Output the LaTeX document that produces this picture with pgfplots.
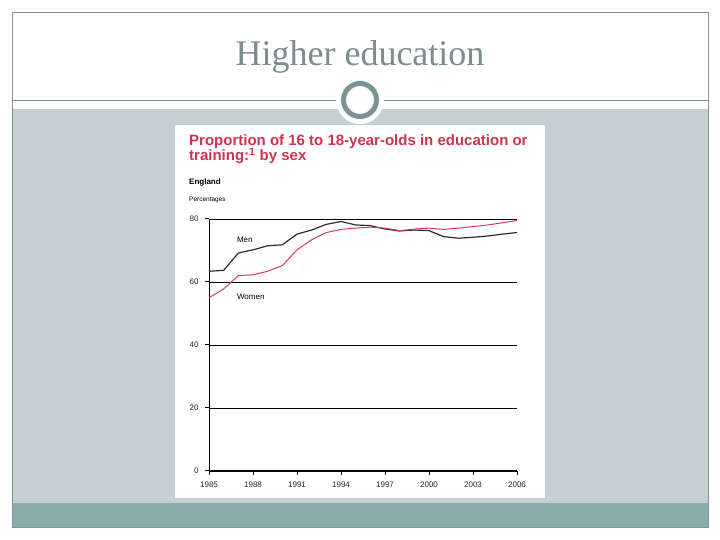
\documentclass[border=0pt]{standalone}
\usepackage{fontspec}
\setmainfont{Liberation Serif}
\newfontfamily\chartfont{Liberation Sans}
\usepackage{pgfplots}
\pgfplotsset{compat=1.18}
\definecolor{slidegray}{RGB}{197,208,213}
\definecolor{slideteal}{RGB}{138,172,172}
\definecolor{framegray}{RGB}{128,148,150}
\definecolor{ringcol}{RGB}{122,148,148}
\definecolor{headgray}{RGB}{125,140,140}
\definecolor{chartred}{RGB}{206,52,78}
\definecolor{menline}{RGB}{45,45,45}
\definecolor{womenline}{RGB}{214,60,82}

\begin{document}
\begin{tikzpicture}[x=1bp,y=1bp]
\useasboundingbox (0,0) rectangle (720,540);
\fill[white] (0,0) rectangle (720,540);
% slide decoration (y measured from the bottom)
\fill[slidegray] (12,37) rectangle (708,431);
\fill[slideteal] (12,13) rectangle (708,37);
\draw[framegray, line width=0.8bp] (12,13) rectangle (708,528);
\draw[framegray, line width=0.8bp] (12,440) -- (708,440);
\fill[white] (360,440) circle (24);
\draw[ringcol, line width=5bp] (360,440) circle (16.5);
\node[anchor=base, text=headgray, inner sep=0pt,
      font=\fontsize{36bp}{40bp}\selectfont] at (360,474) {Higher education};
% chart panel
\fill[white] (175,42) rectangle (545,415);
\node[anchor=base west, inner sep=0pt, text=chartred,
      font=\chartfont\bfseries\fontsize{15bp}{17bp}\selectfont]
  at (189,394) {Proportion of 16 to 18-year-olds in education or};
\node[anchor=base west, inner sep=0pt, text=chartred,
      font=\chartfont\bfseries\fontsize{15bp}{17bp}\selectfont]
  at (189,379) {training:\textsuperscript{1} by sex};
\node[anchor=base west, inner sep=0pt,
      font=\chartfont\bfseries\fontsize{8bp}{9bp}\selectfont] at (189,355) {England};
\node[anchor=base west, inner sep=0pt,
      font=\chartfont\fontsize{6.5bp}{7bp}\selectfont] at (189,338) {Percentages};

\begin{axis}[
  at={(209bp,69bp)}, anchor=south west,
  scale only axis, width=308bp, height=252bp,
  xmin=1985, xmax=2006, ymin=0, ymax=80,
  axis x line=bottom, axis y line=left,
  axis line style={black, line width=1bp, -},
  xtick={1985,1988,1991,1994,1997,2000,2003,2006},
  ytick={0,20,40,60,80},
  xticklabel style={/pgf/number format/1000 sep={}, yshift=-3bp},
  yticklabel style={xshift=-3bp},
  tick align=outside, major tick length=4bp,
  tick style={black, line width=1bp},
  ymajorgrids, grid style={black, line width=0.7bp},
  ticklabel style={font=\chartfont\fontsize{8bp}{9bp}\selectfont, text=black!85},
  /pgf/number format/assume math mode=true,
  clip=false
]
\addplot[menline, line width=1.2bp] coordinates {
(1985,63.4)(1986,63.7)(1987,69.2)(1988,70.2)(1989,71.5)(1990,71.8)(1991,75.2)
(1992,76.5)(1993,78.3)(1994,79.2)(1995,78.1)(1996,77.9)(1997,76.8)(1998,76.2)
(1999,76.5)(2000,76.3)(2001,74.4)(2002,73.9)(2003,74.2)(2004,74.6)(2005,75.2)
(2006,75.7)};
\addplot[womenline, line width=1bp] coordinates {
(1985,55.0)(1986,57.8)(1987,62.0)(1988,62.3)(1989,63.4)(1990,65.2)(1991,70.2)
(1992,73.4)(1993,75.7)(1994,76.7)(1995,77.1)(1996,77.4)(1997,77.1)(1998,76.3)
(1999,76.8)(2000,77.1)(2001,76.7)(2002,77.1)(2003,77.6)(2004,78.1)(2005,78.8)
(2006,79.5)};
\node[anchor=base west, inner sep=0pt, font=\chartfont\fontsize{8bp}{9bp}\selectfont]
  at (axis cs:1986.9,72.4) {Men};
\node[anchor=base west, inner sep=0pt, font=\chartfont\fontsize{8bp}{9bp}\selectfont]
  at (axis cs:1986.9,54.3) {Women};
\end{axis}
\end{tikzpicture}
\end{document}
